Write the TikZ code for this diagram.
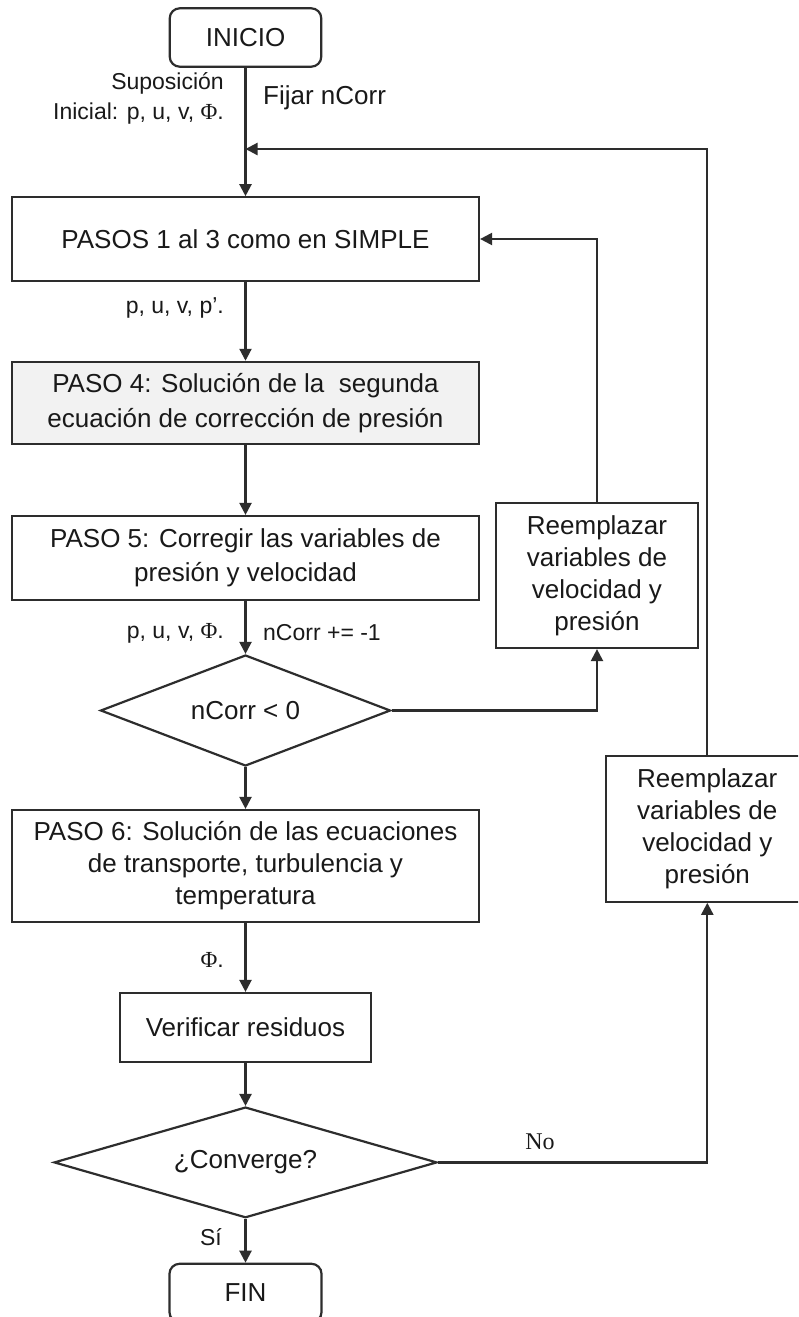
\documentclass[tikz,border=0pt]{standalone}
\usepackage{fontspec}
\setmainfont{Liberation Sans}
\newfontfamily\seriffam{Liberation Serif}
\usetikzlibrary{arrows.meta,shapes.geometric}
\definecolor{lc}{RGB}{45,45,45}
\definecolor{tc}{RGB}{25,25,25}
\definecolor{grayfill}{RGB}{242,242,242}
\begin{document}
\begin{tikzpicture}[x=1pt,y=-1pt,
  box/.style={draw=lc, line width=2.2pt, rectangle, inner sep=0pt, align=center, text=tc, font=\fontsize{26}{33}\selectfont},
  term/.style={box, rounded corners=10pt},
  dec/.style={draw=lc, line width=2.2pt, diamond, inner sep=0pt, text=tc, font=\fontsize{26}{33}\selectfont},
  lbl/.style={inner sep=0pt, text=tc, font=\fontsize{23}{30}\selectfont, align=right},
  conn/.style={draw=lc, line width=2.2pt, -{Triangle[length=12pt,width=12pt]}}
]
\clip (0,0) rectangle (798,1317);
\fill[white] (0,0) rectangle (798,1317);

% nodes
\node[term, minimum width=151.5pt, minimum height=58.4pt] (inicio) at (245.5,37.5) {INICIO};
\node[box, minimum width=467pt, minimum height=83.4pt] (pasos) at (245.5,239) {PASOS 1 al 3 como en SIMPLE};
\node[box, fill=grayfill, minimum width=467pt, minimum height=82.3pt, font=\fontsize{26}{35}\selectfont] (paso4) at (245.5,403) {PASO 4: Solución de la \ segunda\\ecuación de corrección de presión};
\node[box, minimum width=467pt, minimum height=84pt, font=\fontsize{26}{34}\selectfont] (paso5) at (245.5,558) {PASO 5: Corregir las variables de\\presión y velocidad};
\node[dec, aspect=2.61, minimum width=290pt, minimum height=111pt] (d1) at (245.5,710.5) {nCorr < 0};
\node[box, minimum width=467pt, minimum height=112pt, font=\fontsize{26}{32}\selectfont] (paso6) at (245.5,866) {PASO 6: Solución de las ecuaciones\\de transporte, turbulencia y\\temperatura};
\node[box, minimum width=251pt, minimum height=69pt] (verif) at (245.5,1027.5) {Verificar residuos};
\node[dec, aspect=3.46, minimum width=383pt, minimum height=110.7pt] (d2) at (245.5,1162.4) {¿Converge?};
\node[term, minimum width=152pt, minimum height=58.4pt] (fin) at (245.5,1293) {FIN};
\node[box, minimum width=202pt, minimum height=145pt, font=\fontsize{26}{32}\selectfont] (reemp1) at (597,575.5) {Reemplazar\\variables de\\velocidad y\\presión};
\node[box, minimum width=202pt, minimum height=146pt, font=\fontsize{26}{32}\selectfont] (reemp2) at (707.3,828.7) {Reemplazar\\variables de\\velocidad y\\presión};

\coordinate (loopin) at (245.5,149);

% labels
\node[lbl, anchor=east] (lsup) at (224,98) {Suposición\\Inicial: p, u, v, {\seriffam Φ}.};
\node[lbl, anchor=west, font=\fontsize{26}{30}\selectfont] (lfij) at (263,98) {Fijar nCorr};
\node[lbl, anchor=east] (lp1) at (224,308) {p, u, v, p’.};
\node[lbl, anchor=east] (lp2) at (224,633) {p, u, v, {\seriffam Φ}.};
\node[lbl, anchor=west] (lnc) at (263,633) {nCorr += -1};
\node[lbl, anchor=east] (lphi) at (224,960) {{\seriffam Φ}.};
\node[lbl, anchor=center, font=\seriffam\fontsize{24}{30}\selectfont] (lno) at (540,1142) {No};
\node[lbl, anchor=east] (lsi) at (222,1237) {Sí};

% connectors
\draw[conn] (inicio.south) -- (pasos.north);
\draw[conn] (pasos.south) -- (paso4.north);
\draw[conn] (paso4.south) -- (paso5.north);
\draw[conn] (paso5.south) -- (d1.north);
\draw[conn] (d1.south) -- (paso6.north);
\draw[conn] (paso6.south) -- (verif.north);
\draw[conn] (verif.south) -- (d2.north);
\draw[conn] (d2.south) -- (fin.north);
\draw[conn] (d1.east) -| (reemp1.south);
\draw[conn] (reemp1.north) |- (pasos.east);
\draw[conn] (d2.east) -| (reemp2.south);
\draw[conn] (reemp2.north) |- (loopin);
\end{tikzpicture}
\end{document}
